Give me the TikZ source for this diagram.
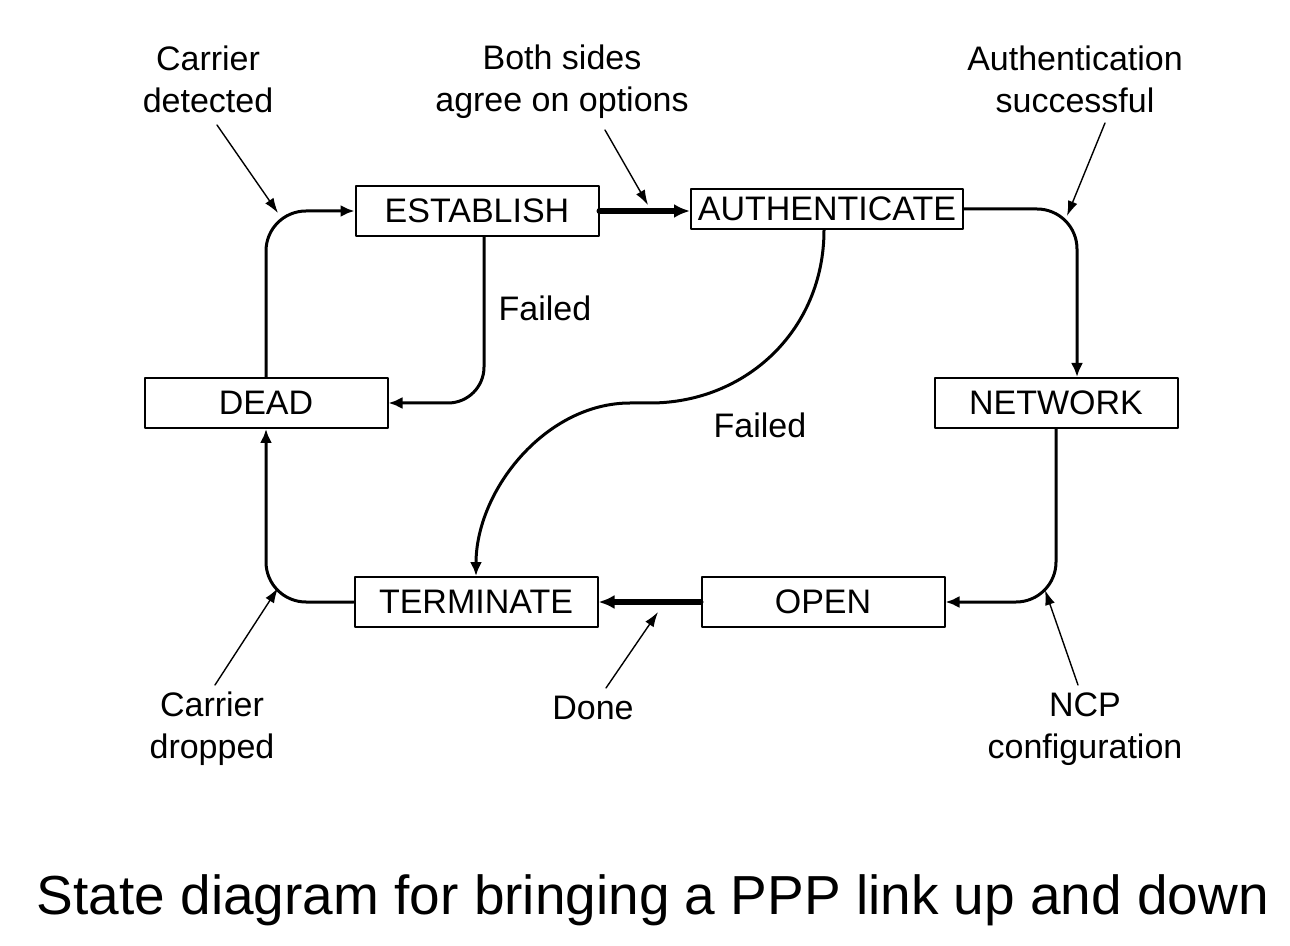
\documentclass[tikz,border=0pt]{standalone}
\usepackage{fontspec}
\setmainfont{Liberation Sans}
\usetikzlibrary{arrows.meta}
\tikzset{>={Latex[length=7pt,width=6pt]}}

\begin{document}
\begin{tikzpicture}[x=0.5pt, y=-0.5pt, line cap=round, line join=round,
  state/.style={draw, line width=1pt, inner sep=0pt, minimum width=121.5pt, minimum height=25pt, font=\fontsize{17}{21}\selectfont},
  flow/.style={->, line width=1.5pt},
  boldflow/.style={-{Latex[length=8pt,width=7pt]}, line width=3pt},
  pointer/.style={-{Latex[length=7.5pt,width=5pt]}, line width=0.7pt},
  lbl/.style={align=center, font=\fontsize{17}{21}\selectfont}]

\useasboundingbox (0,0) rectangle (1290,946);

% states
\node[state] (establish) at (477,211) {ESTABLISH};
\node[state, minimum width=136pt, minimum height=20pt] (auth) at (827,209) {AUTHENTICATE};
\node[state] (dead) at (266,403) {DEAD};
\node[state] (network) at (1056,403) {NETWORK};
\node[state] (terminate) at (476,602) {TERMINATE};
\node[state] (open) at (823,602) {OPEN};

% transitions
\draw[flow, rounded corners=20pt] (dead.north) |- (establish.west);
\draw[boldflow] (establish.east) -- (auth.west |- establish.east);
\draw[flow, rounded corners=20pt] (auth.east) -| ([xshift=10.5pt]network.north);
\draw[flow, rounded corners=20pt] (network.south) |- (open.east);
\draw[boldflow] (open.west) -- (terminate.east);
\draw[flow, rounded corners=20pt] (terminate.west) -| (dead.south);
\draw[flow, rounded corners=18pt] ([xshift=3.5pt]establish.south) |- (dead.east);

\coordinate (fmidA) at (650,403);
\coordinate (fmidB) at (630,403);
\draw[flow] ([xshift=-1.5pt]auth.south) .. controls (824,330) and (746,403) .. (fmidA)
  -- (fmidB) .. controls (546,403) and (476,490) .. (terminate.north);

\node[lbl] (failA) at (545,308) {Failed};
\node[lbl] (failB) at (760,425) {Failed};

% event labels
\node[lbl] (detected) at (208,79) {Carrier\\detected};
\node[lbl] (agree) at (562,82) {Both sides\\agree on options};
\node[lbl] (success) at (1075,79) {Authentication\\successful};
\node[lbl] (dropped) at (212,729) {Carrier\\dropped};
\node[lbl] (done) at (593,708) {Done};
\node[lbl] (ncp) at (1085,729) {NCP\\configuration};

\coordinate (tipdet) at (278,213);
\coordinate (tipagree) at (648,205);
\coordinate (tipsucc) at (1067,216);
\coordinate (tipdrop) at (278,588);
\coordinate (tipdone) at (658,612);
\coordinate (tipncp) at (1045,590);

\draw[pointer] ([shift={(9,46)}]detected.center) -- (tipdet);
\draw[pointer] ([shift={(43,48)}]agree.center) -- (tipagree);
\draw[pointer] ([shift={(30,44)}]success.center) -- (tipsucc);
\draw[pointer] ([shift={(3,-44)}]dropped.center) -- (tipdrop);
\draw[pointer] ([shift={(13,-20)}]done.center) -- (tipdone);
\draw[pointer] ([shift={(-7,-44)}]ncp.center) -- (tipncp);

\node[font=\fontsize{27.5}{32}\selectfont] (caption) at (653,900) {State diagram for bringing a PPP link up and down};

\end{tikzpicture}
\end{document}
